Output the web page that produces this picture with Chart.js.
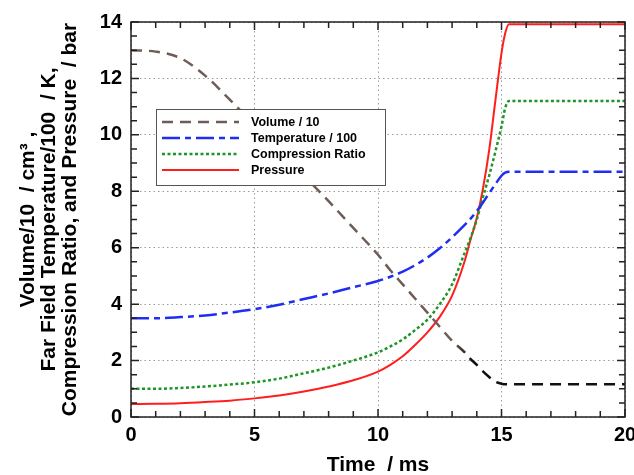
<!DOCTYPE html>
<html>
<head>
<meta charset="utf-8">
<script src="https://cdn.jsdelivr.net/npm/chart.js@4"></script>
<style>
  html, body { margin: 0; padding: 0; background: #fff; }
  #wrap { width: 634px; height: 475px; }
</style>
</head>
<body>
<div id="wrap"><canvas id="chart" width="634" height="475"></canvas></div>
<script>
// time axis shared by every series (ms)
const timeMs = [0, 1, 2, 3, 4, 5, 6, 7, 8, 9, 10,
  10.5, 11, 11.5, 12, 12.5, 13, 13.5,
  13.75, 14, 14.25, 14.5, 14.75, 15, 15.15, 15.3,
  16, 17, 18, 19, 20];

const volume = [13.0, 12.95, 12.72, 12.1, 11.25, 10.35, 9.45, 8.55, 7.65, 6.7, 5.75,
  5.2, 4.7, 4.2, 3.7, 3.2, 2.7, 2.3,
  2.05, 1.85, 1.62, 1.42, 1.25, 1.18, 1.16, 1.16,
  1.16, 1.16, 1.16, 1.16, 1.16];

const temperature = [3.5, 3.5, 3.54, 3.6, 3.7, 3.82, 3.98, 4.18, 4.38, 4.6, 4.82,
  4.97, 5.15, 5.38, 5.65, 5.98, 6.37, 6.8,
  7.03, 7.3, 7.6, 7.93, 8.25, 8.55, 8.66, 8.69,
  8.69, 8.69, 8.69, 8.69, 8.69];

const compression = [1.0, 1.0, 1.03, 1.08, 1.15, 1.23, 1.36, 1.55, 1.75, 2.0, 2.29,
  2.5, 2.75, 3.08, 3.45, 4.0, 4.7, 5.8,
  6.35, 7.0, 7.8, 8.55, 9.4, 10.3, 10.95, 11.2,
  11.2, 11.2, 11.2, 11.2, 11.2];

const pressure = [0.46, 0.47, 0.49, 0.53, 0.58, 0.66, 0.76, 0.9, 1.08, 1.3, 1.61,
  1.85, 2.15, 2.55, 3.0, 3.55, 4.3, 5.5,
  6.3, 7.05, 8.1, 9.45, 11.2, 12.9, 13.6, 13.92,
  13.92, 13.92, 13.92, 13.92, 13.92];

const seriesNames = ['Volume / 10', 'Temperature / 100', 'Compression Ratio', 'Pressure'];
const xTicks = [0, 5, 10, 15, 20];
const yTicks = [0, 2, 4, 6, 8, 10, 12, 14];

const FONT = '"Liberation Sans", Arial, sans-serif';
Chart.defaults.font.family = FONT;
Chart.defaults.color = '#000';

const pts = vals => vals.map((v, i) => ({ x: timeMs[i], y: v }));

// volume line fades from brown into black near the end of compression
function volumeStroke(ctx) {
  const chart = ctx.chart;
  if (!chart.chartArea) return '#6e5c57';
  const xs = chart.scales.x;
  const g = chart.ctx.createLinearGradient(xs.getPixelForValue(13.0), 0, xs.getPixelForValue(13.8), 0);
  g.addColorStop(0, '#6e5c57');
  g.addColorStop(1, '#111111');
  return g;
}

const styles = [
  { color: '#6e5c57', dash: [11, 7], width: 2.5 },
  { color: '#1f2ef0', dash: [18, 5, 6, 5], width: 2.5 },
  { color: '#1e9626', dash: [3, 2.5], width: 2.5 },
  { color: '#ff1e1e', dash: [], width: 2 }
];

// inward tick marks on all four sides plus the plot frame
const frameTicks = {
  id: 'frameTicks',
  afterDatasetsDraw(chart) {
    const { ctx, chartArea: a, scales: { x, y } } = chart;
    ctx.save();
    ctx.strokeStyle = '#222';
    ctx.lineWidth = 1.5;
    ctx.beginPath();
    for (let t = 0; t <= 20; t += 1) {
      const px = x.getPixelForValue(t);
      const len = t % 5 === 0 ? 8 : 6;
      ctx.moveTo(px, a.bottom); ctx.lineTo(px, a.bottom - len);
      ctx.moveTo(px, a.top); ctx.lineTo(px, a.top + len);
    }
    for (let v = 0; v <= 14; v += 0.5) {
      const py = y.getPixelForValue(v);
      const len = v % 2 === 0 ? 8 : 6;
      ctx.moveTo(a.left, py); ctx.lineTo(a.left + len, py);
      ctx.moveTo(a.right, py); ctx.lineTo(a.right - len, py);
    }
    ctx.stroke();
    ctx.strokeRect(a.left, a.top, a.right - a.left, a.bottom - a.top);
    ctx.restore();
  }
};

// boxed legend sitting inside the plot, upper left
const boxLegend = {
  id: 'boxLegend',
  afterDraw(chart) {
    const { ctx, chartArea: a } = chart;
    const left = a.left + 25, top = a.top + 87, w = 229, h = 76;
    ctx.save();
    ctx.fillStyle = '#fff';
    ctx.fillRect(left, top, w, h);
    ctx.strokeStyle = '#555';
    ctx.lineWidth = 1;
    ctx.strokeRect(left + 0.5, top + 0.5, w, h);
    ctx.font = 'bold 12.5px ' + FONT;
    ctx.textBaseline = 'middle';
    seriesNames.forEach((name, i) => {
      const st = styles[i];
      const ry = top + 13 + i * 16;
      ctx.strokeStyle = st.color;
      ctx.lineWidth = st.width;
      ctx.setLineDash(st.dash);
      ctx.beginPath();
      ctx.moveTo(left + 6, ry);
      ctx.lineTo(left + 83, ry);
      ctx.stroke();
      ctx.setLineDash([]);
      ctx.fillStyle = '#000';
      ctx.fillText(name, left + 95, ry + 1);
    });
    ctx.restore();
  }
};

const seriesValues = [volume, temperature, compression, pressure];

new Chart(document.getElementById('chart'), {
  type: 'line',
  data: {
    datasets: seriesValues.map((vals, i) => ({
      label: seriesNames[i],
      data: pts(vals),
      borderColor: i === 0 ? volumeStroke : styles[i].color,
      borderDash: styles[i].dash,
      borderWidth: styles[i].width,
      pointRadius: 0,
      fill: false,
      cubicInterpolationMode: 'monotone'
    }))
  },
  options: {
    responsive: false,
    animation: false,
    events: [],
    layout: { padding: { top: 22, right: 9, left: 0, bottom: 0 } },
    plugins: { legend: { display: false }, tooltip: { enabled: false } },
    scales: {
      x: {
        type: 'linear',
        min: 0, max: 20,
        afterBuildTicks: s => { s.ticks = xTicks.map(v => ({ value: v })); },
        afterFit: s => { s.height = 58; s.paddingLeft = 0; s.paddingRight = 0; },
        ticks: { font: { size: 20, weight: 'bold' }, padding: 6, maxRotation: 0 },
        grid: { color: '#9a9a9a', lineWidth: 1, drawTicks: false },
        border: { display: false, dash: [1.5, 3] },
        title: {
          display: true,
          text: 'Time  / ms',
          font: { size: 21, weight: 'bold', lineHeight: 0.9 },
          padding: { top: 0, bottom: 0 }
        }
      },
      y: {
        type: 'linear',
        min: 0, max: 14,
        afterBuildTicks: s => { s.ticks = yTicks.map(v => ({ value: v })); },
        afterFit: s => { s.width = 131; s.paddingTop = 0; s.paddingBottom = 0; },
        ticks: { font: { size: 20, weight: 'bold' }, padding: 9 },
        grid: { color: '#9a9a9a', lineWidth: 1, drawTicks: false },
        border: { display: false, dash: [1.5, 3] },
        title: {
          display: true,
          text: ['Volume/10  / cm³ ,', 'Far Field Temperature/100  / K,', 'Compression Ratio, and Pressure  / bar'],
          font: { size: 21, weight: 'bold', lineHeight: 1.02 },
          padding: { top: 17, bottom: 0 }
        }
      }
    }
  },
  plugins: [frameTicks, boxLegend]
});
</script>
</body>
</html>
